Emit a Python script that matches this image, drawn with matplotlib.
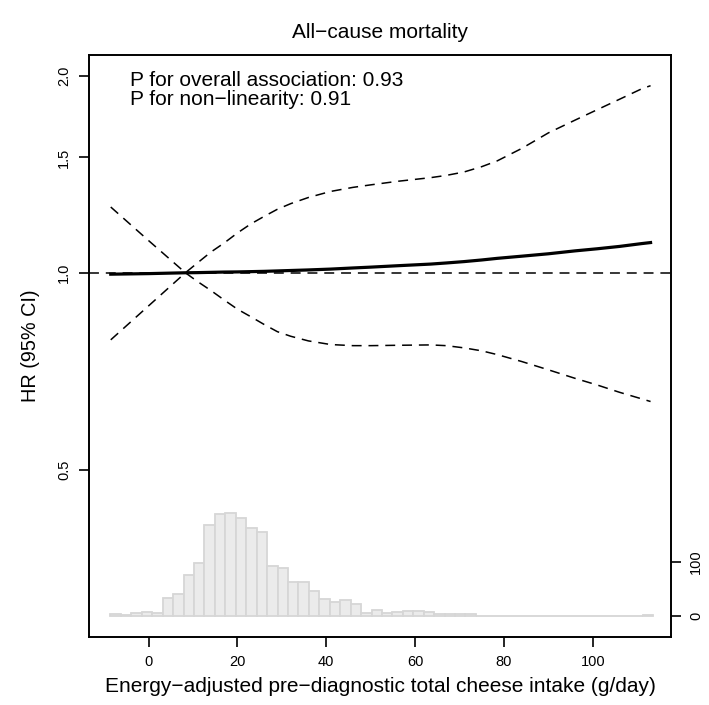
import numpy as np
import matplotlib
matplotlib.use("Agg")
import matplotlib.pyplot as plt
from matplotlib.ticker import NullLocator

plt.rcParams['font.family'] = ['Liberation Sans', 'DejaVu Sans']

# spline estimate
x_vals = [-8.5, 0, 8.3, 11, 14, 17, 20, 23, 26, 29, 32, 36, 41, 46, 50, 56, 63.5, 67, 71, 75,
          78.5, 84, 90, 96, 101, 106, 111, 113]
hr = [0.995, 0.997, 1.0, 1.0005, 1.0015, 1.0025, 1.003, 1.004, 1.005, 1.0065, 1.008, 1.010, 1.013,
      1.017, 1.02, 1.025, 1.031, 1.035, 1.04, 1.046, 1.052, 1.06, 1.069, 1.08, 1.088, 1.097, 1.108, 1.112]
ci_hi = [1.26, 1.12, 1.0, 1.035, 1.075, 1.11, 1.15, 1.187, 1.219, 1.25, 1.275, 1.303, 1.331, 1.35,
         1.362, 1.379, 1.397, 1.408, 1.425, 1.452, 1.482, 1.548, 1.635, 1.71, 1.774, 1.84, 1.909, 1.93]
ci_lo = [0.79, 0.89, 1.0, 0.97, 0.94, 0.909, 0.88, 0.857, 0.834, 0.813, 0.80, 0.787, 0.777, 0.774,
         0.774, 0.775, 0.776, 0.774, 0.768, 0.76, 0.75, 0.732, 0.711, 0.69, 0.674, 0.657, 0.642, 0.636]

# histogram of intake
bin_start = -8.56
bin_width = 2.35
counts = [3, 1, 5, 8, 5, 33, 40, 76, 99, 169, 188, 191, 182, 162, 156, 93, 89, 62, 62, 46,
          31, 26, 30, 22, 5, 11, 6, 7, 9, 10, 7, 3, 3, 4, 4, 0, 0, 0, 0, 0,
          0, 0, 0, 0, 0, 0, 0, 0, 0, 0, 0, 1]

x_ticks = [0, 20, 40, 60, 80, 100]
y_ticks = [0.5, 1.0, 1.5, 2.0]
count_ticks = [0, 100]

fig = plt.figure(figsize=(7.09, 7.05), dpi=100)
ax = fig.add_axes([0.1255, 0.0965, 0.8209, 0.8255])
ax2 = ax.twinx()
ax.set_zorder(ax2.get_zorder() + 1)
ax.patch.set_visible(False)

# histogram on the secondary axis
lefts = [bin_start + i * bin_width for i in range(len(counts))]
ax2.bar(lefts, counts, width=bin_width, align='edge', color='#ebebeb',
        edgecolor='#d6d6d6', linewidth=1.3)
ax2.set_ylim(-38.9, 1038.9)
ax2.set_yticks(count_ticks)
ax2.set_yticklabels([str(c) for c in count_ticks], rotation=90, va='center', fontsize=10.5)
ax2.tick_params(axis='y', length=7, width=1.2, pad=6)

# curves
dash = (0, (6.5, 4.5))
ax.axhline(1.0, color='black', lw=1.1, linestyle=dash)
ax.plot(x_vals, ci_hi, color='black', lw=1.1, linestyle=dash)
ax.plot(x_vals, ci_lo, color='black', lw=1.1, linestyle=dash)
ax.plot(x_vals, hr, color='black', lw=2.3)

ax.set_yscale('log')
ax.set_ylim(0.278, 2.15)
ax.set_xlim(-13.4, 117.6)
ax.set_yticks(y_ticks)
ax.set_yticklabels(['%.1f' % v for v in y_ticks], rotation=90, va='center', fontsize=10.5)
ax.yaxis.set_minor_locator(NullLocator())
ax.set_xticks(x_ticks)
ax.set_xticklabels([str(v) for v in x_ticks], fontsize=10.5)
ax.tick_params(axis='both', length=7, width=1.2, pad=6)

for s in list(ax.spines.values()) + list(ax2.spines.values()):
    s.set_linewidth(1.2)

ax.text(-4.2, 2.03, 'P for overall association: 0.93\nP for non\u2212linearity: 0.91',
        fontsize=15, va='top', ha='left', linespacing=0.98)

ax.set_title('All\u2212cause mortality', fontsize=15, pad=12.5)
ax.set_xlabel('Energy\u2212adjusted pre\u2212diagnostic total cheese intake (g/day)', fontsize=15, labelpad=6)
ax.set_ylabel('HR (95% CI)', fontsize=14.3, labelpad=12)

fig.savefig('out.png', dpi=100)
